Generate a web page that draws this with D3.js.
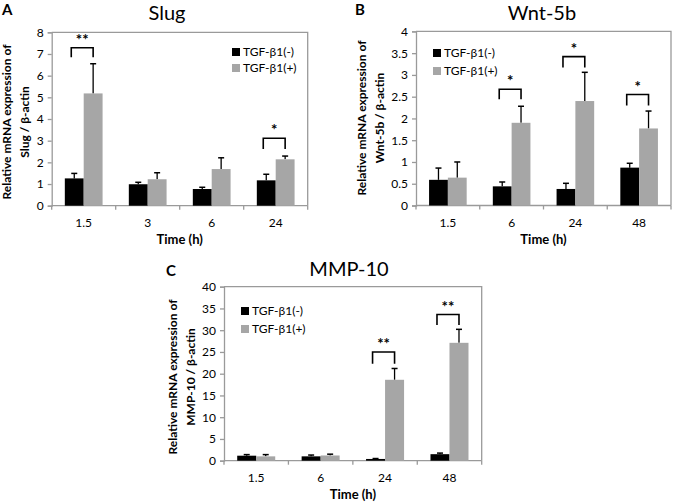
<!DOCTYPE html>
<html>
<head>
<meta charset="utf-8">
<script src="https://cdn.jsdelivr.net/npm/d3@7"></script>
<style>
  body { margin: 0; background: #fff; }
  svg { display: block; font-family: Lato, "Open Sans", sans-serif; }
</style>
</head>
<body>
<svg id="chart" width="673" height="503"></svg>
<script>
// ---- data ----
const seriesNames = ["TGF-β1(-)", "TGF-β1(+)"];

// A: Slug
const slugTimes = ["1.5", "3", "6", "24"];
const slugNeg = [1.26, 0.99, 0.77, 1.17];
const slugNegErr = [0.23, 0.09, 0.08, 0.28];
const slugPos = [5.18, 1.22, 1.69, 2.14];
const slugPosErr = [1.37, 0.30, 0.52, 0.15];
const slugSig = [
  {idx: 0, top: 7.29, leg: 6.85, label: "**"},
  {idx: 3, top: 3.11, leg: 2.62, label: "*"}
];

// B: Wnt-5b
const wntTimes = ["1.5", "6", "24", "48"];
const wntNeg = [0.59, 0.44, 0.38, 0.87];
const wntNegErr = [0.27, 0.10, 0.13, 0.10];
const wntPos = [0.64, 1.90, 2.40, 1.77];
const wntPosErr = [0.36, 0.38, 0.66, 0.40];
const wntSig = [
  {idx: 1, top: 2.67, leg: 2.44, label: "*"},
  {idx: 2, top: 3.42, leg: 3.17, label: "*"},
  {idx: 3, top: 2.55, leg: 2.30, label: "*"}
];

// C: MMP-10
const mmpTimes = ["1.5", "6", "24", "48"];
const mmpNeg = [1.15, 1.0, 0.4, 1.5];
const mmpNegErr = [0.25, 0.3, 0.1, 0.25];
const mmpPos = [1.0, 1.2, 18.6, 27.1];
const mmpPosErr = [0.4, 0.3, 2.6, 3.1];
const mmpSig = [
  {idx: 2, top: 25.0, leg: 22.3, label: "**"},
  {idx: 3, top: 33.6, leg: 31.2, label: "**"}
];

const colors = ["#000000", "#a6a6a6"];
const gridGrey = "#9a9a9a";

const svg = d3.select("#chart");

function drawPanel(cfg) {
  const g = svg.append("g");
  const x = d3.scaleBand().domain(cfg.times).range([cfg.left, cfg.right]);
  const y = d3.scaleLinear().domain([0, cfg.yMax]).range([cfg.bottom, cfg.top]);
  const barW = x.step() * 0.295;
  const cx = t => x(t) + x.bandwidth() / 2;

  // plot frame (top + right border)
  g.append("path")
    .attr("d", `M${cfg.left},${cfg.top}H${cfg.right}V${cfg.bottom}`)
    .attr("fill", "none").attr("stroke", gridGrey).attr("stroke-width", 1.3);

  // y axis
  const yAxis = d3.axisLeft(y)
    .tickValues(d3.range(0, cfg.yMax + cfg.yStep / 2, cfg.yStep))
    .tickSize(4).tickPadding(4)
    .tickFormat(d3.format("~g"));
  const yG = g.append("g").attr("transform", `translate(${cfg.left},0)`).call(yAxis);
  yG.select(".domain").attr("stroke", gridGrey).attr("stroke-width", 1.3);
  yG.selectAll(".tick line").attr("stroke", gridGrey).attr("stroke-width", 1.3);
  yG.selectAll(".tick text").attr("font-size", 12).attr("fill", "#000")
    .attr("font-family", "Lato, sans-serif");

  // x axis: ticks at category boundaries
  g.append("line")
    .attr("x1", cfg.left).attr("x2", cfg.right)
    .attr("y1", cfg.bottom).attr("y2", cfg.bottom)
    .attr("stroke", gridGrey).attr("stroke-width", 1.3);
  g.selectAll(".xtick").data(d3.range(cfg.times.length + 1)).join("line")
    .attr("x1", i => cfg.left + i * x.step()).attr("x2", i => cfg.left + i * x.step())
    .attr("y1", cfg.bottom).attr("y2", cfg.bottom + 4)
    .attr("stroke", gridGrey).attr("stroke-width", 1.3);
  g.selectAll(".xlab").data(cfg.times).join("text")
    .attr("x", d => cx(d)).attr("y", cfg.bottom + 21)
    .attr("text-anchor", "middle").attr("font-size", 12)
    .text(d => d);

  // bars
  const series = [
    {vals: cfg.neg, errs: cfg.negErr, off: -1},
    {vals: cfg.pos, errs: cfg.posErr, off: 0}
  ];
  series.forEach((s, si) => {
    const rows = cfg.times.map((t, i) => ({t, v: s.vals[i], e: s.errs[i]}));
    const bx = d => cx(d.t) + s.off * barW;
    // error bars (upper only)
    g.selectAll(null).data(rows).join("line")
      .attr("x1", d => bx(d) + barW / 2).attr("x2", d => bx(d) + barW / 2)
      .attr("y1", d => y(d.v)).attr("y2", d => y(d.v + d.e))
      .attr("stroke", "#000").attr("stroke-width", 1.3);
    g.selectAll(null).data(rows).join("line")
      .attr("x1", d => bx(d) + barW / 2 - 3).attr("x2", d => bx(d) + barW / 2 + 3)
      .attr("y1", d => y(d.v + d.e)).attr("y2", d => y(d.v + d.e))
      .attr("stroke", "#000").attr("stroke-width", 1.5);
    g.selectAll(null).data(rows).join("rect")
      .attr("x", bx).attr("width", barW)
      .attr("y", d => y(d.v)).attr("height", d => y(0) - y(d.v))
      .attr("fill", colors[si]);
  });

  // significance brackets
  cfg.sig.forEach(s => {
    const t = cfg.times[s.idx];
    const x1 = cx(t) - barW / 2 - 3, x2 = cx(t) + barW / 2;
    g.append("path")
      .attr("d", `M${x1},${y(s.leg)}V${y(s.top)}H${x2}V${y(s.leg)}`)
      .attr("fill", "none").attr("stroke", "#000").attr("stroke-width", 1.6);
    g.append("text")
      .attr("x", (x1 + x2) / 2).attr("y", y(s.top) - 3)
      .attr("text-anchor", "middle").attr("font-size", 15).attr("font-weight", "bold")
      .text(s.label);
  });

  // legend
  seriesNames.forEach((name, i) => {
    const ly = cfg.legY + i * cfg.legGap;
    g.append("rect").attr("x", cfg.legX).attr("y", ly - 8)
      .attr("width", 8).attr("height", 8).attr("fill", colors[i]);
    g.append("text").attr("x", cfg.legX + 11).attr("y", ly)
      .attr("font-size", 12).text(name);
  });

  // titles and labels
  g.append("text").attr("x", cfg.titleX).attr("y", cfg.titleY)
    .attr("text-anchor", "middle").attr("font-size", 20).text(cfg.title);
  g.append("text").attr("x", cfg.letterX).attr("y", cfg.letterY)
    .attr("font-size", 15).attr("font-weight", "bold").text(cfg.letter);
  g.append("text").attr("x", (cfg.left + cfg.right) / 2).attr("y", cfg.bottom + 38)
    .attr("text-anchor", "middle").attr("font-size", 13).attr("font-weight", "bold")
    .text("Time (h)");
  const yl = g.append("text")
    .attr("transform", `translate(${cfg.yLabX},${cfg.yLabY}) rotate(-90)`)
    .attr("text-anchor", "middle").attr("font-size", 12).attr("font-weight", "bold");
  yl.append("tspan").attr("x", 0).attr("y", 0).text("Relative mRNA expression of");
  yl.append("tspan").attr("x", 0).attr("y", 18).text(cfg.yLab2);
}

drawPanel({
  times: slugTimes, neg: slugNeg, negErr: slugNegErr, pos: slugPos, posErr: slugPosErr, sig: slugSig,
  yMax: 8, yStep: 1, left: 51.7, right: 307.7, top: 32.3, bottom: 205.7,
  title: "Slug", titleX: 167, titleY: 20, letter: "A", letterX: 2, letterY: 15,
  yLabX: 11, yLabY: 122, yLab2: "Slug / β-actin",
  legX: 232, legY: 56, legGap: 16
});

drawPanel({
  times: wntTimes, neg: wntNeg, negErr: wntNegErr, pos: wntPos, posErr: wntPosErr, sig: wntSig,
  yMax: 4, yStep: 0.5, left: 416, right: 671, top: 31.4, bottom: 205.5,
  title: "Wnt-5b", titleX: 542, titleY: 20, letter: "B", letterX: 355, letterY: 15,
  yLabX: 366, yLabY: 118, yLab2: "Wnt-5b / β-actin",
  legX: 433, legY: 57, legGap: 18
});

drawPanel({
  times: mmpTimes, neg: mmpNeg, negErr: mmpNegErr, pos: mmpPos, posErr: mmpPosErr, sig: mmpSig,
  yMax: 40, yStep: 5, left: 224, right: 481.7, top: 286.7, bottom: 460.7,
  title: "MMP-10", titleX: 349, titleY: 276, letter: "C", letterX: 166, letterY: 276,
  yLabX: 177, yLabY: 377, yLab2: "MMP-10 / β-actin",
  legX: 241, legY: 315, legGap: 18
});
</script>
</body>
</html>
